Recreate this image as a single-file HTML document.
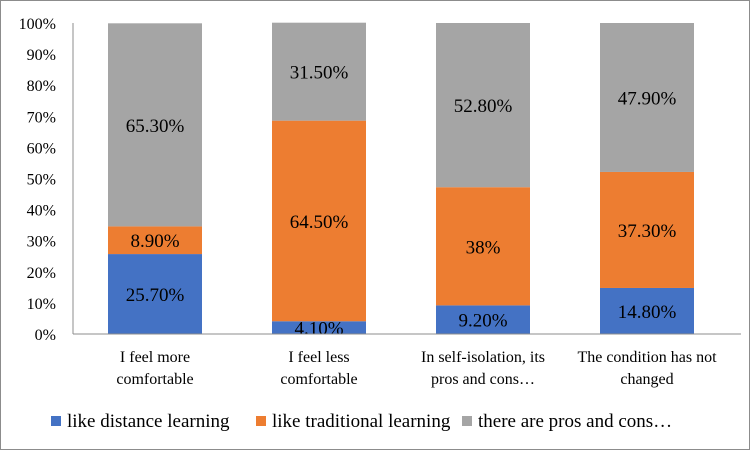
<!DOCTYPE html>
<html><head><meta charset="utf-8"><style>
body{margin:0;background:#fff}
svg{display:block;font-family:"Liberation Serif",serif}
</style></head><body>
<svg id="chart" width="750" height="450">
<rect x="0.5" y="0.5" width="749" height="449" fill="#fff" stroke="#8c8c8c"/>
<g id="plot"></g>
</svg>
<script>
const categories=[["I feel more","comfortable"],["I feel less","comfortable"],["In self-isolation,  its","pros and cons…"],["The condition has not","changed"]];
const seriesNames=["like distance learning","like traditional learning","there are pros and cons…"];
const distance=[25.7,4.1,9.2,14.8];
const traditional=[8.9,64.5,38,37.3];
const prosCons=[65.3,31.5,52.8,47.9];
const valueLabels=[["25.70%","4.10%","9.20%","14.80%"],["8.90%","64.50%","38%","37.30%"],["65.30%","31.50%","52.80%","47.90%"]];
const yTicks=[0,10,20,30,40,50,60,70,80,90,100];
const colors=["#4472c4","#ed7d31","#a5a5a5"];
const ns="http://www.w3.org/2000/svg";
const g=document.getElementById('plot');
const X0=73,X1=729,Y0=334,Y1=23;
const bw=(X1-X0)/categories.length,barW=94;
const y=v=>Y0-(v/100)*(Y0-Y1);
const xc=i=>X0+bw*(i+0.5);
function mk(t,a,txt){const e=document.createElementNS(ns,t);for(const k in a)e.setAttribute(k,a[k]);if(txt!=null)e.textContent=txt;g.appendChild(e);return e;}
yTicks.forEach(t=>{
const e=mk('text',{x:56,y:y(t)+6,'text-anchor':'end','font-size':16,fill:'#000'},t+'%');


});
const series=[distance,traditional,prosCons];
categories.forEach((c,i)=>{
let base=0;
series.forEach((s,k)=>{
const v=s[i];
const r=mk('rect',{x:xc(i)-barW/2,y:y(base+v),width:barW,height:y(base)-y(base+v),fill:colors[k]});


const l=mk('text',{x:xc(i),y:y(base+v/2)+7,'text-anchor':'middle','font-size':19,fill:'#000'},valueLabels[k][i]);


base+=v;
});
c.forEach((ln,j)=>{
const t=mk('text',{x:xc(i),y:362+j*22,'text-anchor':'middle','font-size':16,fill:'#000'},ln);


});
});
const ya=mk('line',{x1:X0,y1:Y1,x2:X0,y2:Y0,stroke:'#8c8c8c'});


const xa=mk('line',{x1:X0,y1:Y0,x2:741,y2:Y0,stroke:'#8c8c8c'});


const lx=[51,256,462];
seriesNames.forEach((n,k)=>{
const s=mk('rect',{x:lx[k],y:416,width:10,height:10,fill:colors[k]});


const t=mk('text',{x:lx[k]+16,y:427,'font-size':19,fill:'#000'},n);


});
</script>
</body></html>
